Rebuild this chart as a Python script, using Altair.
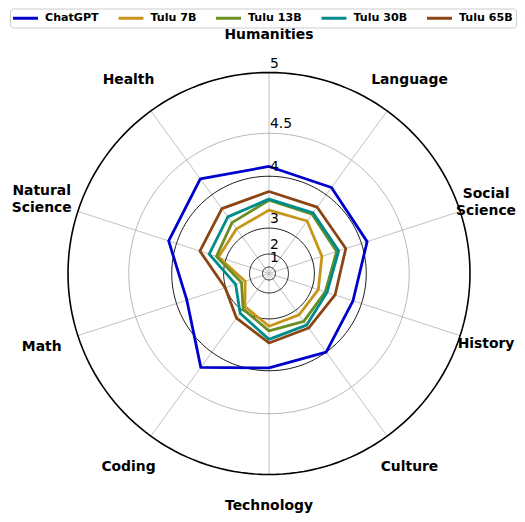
import math
import altair as alt
import pandas as pd

# ---------------- data ----------------
categories = ["Humanities", "Language", "Social\nScience", "History", "Culture",
              "Technology", "Coding", "Math", "Natural\nScience", "Health"]
models = ["ChatGPT", "Tulu 7B", "Tulu 13B", "Tulu 30B", "Tulu 65B"]
colors = ["#0000CD", "#C8951B", "#6B8E23", "#008B8B", "#8B4513"]

chatgpt = [4.13, 4.12, 4.08, 3.87, 4.00, 3.96, 4.24, 3.84, 4.11, 4.25]
tulu_7b = [3.43, 3.46, 3.26, 3.17, 3.15, 3.19, 2.87, 2.28, 3.20, 3.25]
tulu_13b = [3.62, 3.62, 3.58, 3.34, 3.34, 3.30, 2.96, 2.45, 3.25, 3.42]
tulu_30b = [3.64, 3.65, 3.62, 3.38, 3.44, 3.48, 3.10, 2.68, 3.42, 3.56]
tulu_65b = [3.77, 3.77, 3.75, 3.55, 3.51, 3.55, 3.25, 3.02, 3.61, 3.74]

ring_values = [1, 2, 3, 4, 4.5, 5]
ring_labels = ["1", "2", "3", "4", "4.5", "5"]

series = [chatgpt, tulu_7b, tulu_13b, tulu_30b, tulu_65b]
rows = []
for m, vals in zip(models, series):
    for i, (c, v) in enumerate(zip(categories, vals)):
        rows.append({"model": m, "idx": i, "category": c, "score": v})
scores_df = pd.DataFrame(rows)
cat_df = pd.DataFrame({"idx": list(range(len(categories))), "category": categories})
ring_df = pd.DataFrame({"value": ring_values, "label": ring_labels})

# ---------------- scales ----------------
RMAX = 2 ** 5 - 1          # radial value 5 after the 2^v - 1 transform
PLOT = 402                 # plot area (diameter of the outer ring) in px
PX = PLOT / (2 * RMAX)     # px per radial unit
FONT = "DejaVu Sans"

xs = alt.Scale(domain=[-RMAX, RMAX], nice=False, zero=False)
ys = alt.Scale(domain=[-RMAX, RMAX], nice=False, zero=False)

N = len(categories)
theta_expr = f"PI/2 - datum.idx*2*PI/{N}"

# spokes
spokes = alt.Chart(cat_df).transform_calculate(
    th=theta_expr,
    x0="0", y0="0",
    x1=f"{RMAX}*cos(datum.th)", y1=f"{RMAX}*sin(datum.th)",
).mark_rule(color="#b0b0b0", strokeWidth=0.8).encode(
    x=alt.X("x0:Q", scale=xs, axis=None),
    y=alt.Y("y0:Q", scale=ys, axis=None),
    x2="x1:Q", y2="y1:Q",
)

# grid rings (one closed polyline per radial tick value)
ring_layers = []
for v in ring_values:
    if v == 5:
        col, sw = "black", 1.6
    elif v == 4.5:
        col, sw = "#b0b0b0", 0.9
    else:
        col, sw = "black", 0.9
    ring_layers.append(
        alt.Chart(alt.sequence(0, 360, 2, as_="deg")).transform_calculate(
            r=f"pow(2, {v}) - 1",
            x="datum.r*cos(datum.deg*PI/180)",
            y="datum.r*sin(datum.deg*PI/180)",
        ).mark_line(interpolate="linear-closed", color=col, strokeWidth=sw).encode(
            x=alt.X("x:Q", scale=xs, axis=None),
            y=alt.Y("y:Q", scale=ys, axis=None),
            order=alt.Order("deg:Q"),
        )
    )

# series lines
lines = alt.Chart(scores_df).transform_calculate(
    th=theta_expr,
    r="pow(2, datum.score) - 1",
    x="datum.r*cos(datum.th)",
    y="datum.r*sin(datum.th)",
).mark_line(interpolate="linear-closed", strokeWidth=2.8, strokeJoin="round").encode(
    x=alt.X("x:Q", scale=xs, axis=None),
    y=alt.Y("y:Q", scale=ys, axis=None),
    order=alt.Order("idx:Q"),
    color=alt.Color(
        "model:N",
        scale=alt.Scale(domain=models, range=colors),
        legend=alt.Legend(
            title=None, orient="none", legendX=-58, legendY=-64,
            direction="horizontal", columns=5,
            symbolType="M-1.3,0H3.7", symbolSize=100, symbolStrokeWidth=3,
            labelFont=FONT, labelFontWeight="bold", labelFontSize=11.1,
            labelColor="black", labelOffset=19, columnPadding=13.5,
            padding=3, strokeColor="#cccccc", fillColor="white", cornerRadius=3,
        ),
    ),
)

# radial tick labels
rlabels = alt.Chart(ring_df).transform_calculate(
    x0="0", y0="pow(2, datum.value) - 1"
).mark_text(
    align="left", baseline="bottom", dx=1, dy=-2, font=FONT, fontSize=13.9, color="black"
).encode(
    x=alt.X("x0:Q", scale=xs, axis=None),
    y=alt.Y("y0:Q", scale=ys, axis=None),
    text="label:N",
)

# category labels (pulled in slightly where the page edge would cut them)
LINE_H = 17
clabels = alt.Chart(cat_df).transform_calculate(
    th=theta_expr,
    rl="cos(datum.th) > 0.9 ? 35.2 : (sin(datum.th) < -0.99 ? 35.9 : 36.86)",
    shift=f"indexof(datum.category, '\\n') >= 0 ? {LINE_H / 2 / PX} : 0",
    lx="datum.rl*cos(datum.th)",
    ly="datum.rl*sin(datum.th) + datum.shift",
).mark_text(
    align="center", baseline="middle", font=FONT, fontSize=13.9, fontWeight="bold",
    color="black", lineBreak="\n", lineHeight=LINE_H,
).encode(
    x=alt.X("lx:Q", scale=xs, axis=None),
    y=alt.Y("ly:Q", scale=ys, axis=None),
    text="category:N",
)

chart = alt.layer(
    spokes, *ring_layers, lines, rlabels, clabels
).properties(
    width=PLOT, height=PLOT,
    padding={"left": 60, "top": 64.5, "right": 47, "bottom": 39.5},
    autosize=alt.AutoSizeParams(type="none"),
).configure_view(stroke=None)

chart.save("out.html", embed_options={"renderer": "svg", "actions": False})
